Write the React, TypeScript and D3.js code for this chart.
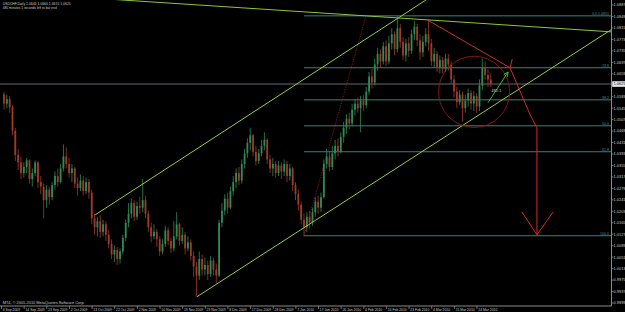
import React from "react";
import * as d3 from "d3";

// ---- data (USDCHF, Daily) ----
const opens = [
  1.0590, 1.0560, 1.0575, 1.0548, 1.0470, 1.0390, 1.0365, 1.0330, 1.0350, 1.0372,
  1.0310, 1.0330, 1.0365, 1.0300, 1.0285, 1.0240, 1.0275, 1.0250, 1.0290, 1.0320,
  1.0300, 1.0345, 1.0385, 1.0360, 1.0330, 1.0345, 1.0295, 1.0280, 1.0305, 1.0270,
  1.0300, 1.0265, 1.0180, 1.0150, 1.0170, 1.0135, 1.0160, 1.0125, 1.0095, 1.0060,
  1.0075, 1.0045, 1.0070, 1.0115, 1.0165, 1.0195, 1.0230, 1.0185, 1.0220, 1.0215,
  1.0240, 1.0195, 1.0150, 1.0120, 1.0135, 1.0110, 1.0070, 1.0095, 1.0140, 1.0105,
  1.0080, 1.0120, 1.0160, 1.0105, 1.0125, 1.0080, 1.0100, 1.0055, 1.0020, 0.9990,
  1.0045, 1.0010, 1.0025, 0.9995, 1.0040, 1.0010, 0.9990, 1.0165, 1.0205, 1.0245,
  1.0215, 1.0270, 1.0300, 1.0330, 1.0305, 1.0360, 1.0395, 1.0430, 1.0455, 1.0400,
  1.0370, 1.0395, 1.0420, 1.0440, 1.0375, 1.0345, 1.0360, 1.0330, 1.0355, 1.0335,
  1.0360, 1.0320, 1.0345, 1.0290, 1.0260, 1.0225, 1.0175, 1.0150, 1.0185, 1.0165,
  1.0200, 1.0235, 1.0215, 1.0250, 1.0360, 1.0385, 1.0350, 1.0395, 1.0420, 1.0400,
  1.0450, 1.0480, 1.0510, 1.0495, 1.0540, 1.0560, 1.0545, 1.0570, 1.0555, 1.0600,
  1.0650, 1.0630, 1.0690, 1.0725, 1.0700, 1.0750, 1.0700, 1.0760, 1.0790, 1.0740,
  1.0810, 1.0765, 1.0720, 1.0760, 1.0735, 1.0790, 1.0815, 1.0770, 1.0730, 1.0765,
  1.0790, 1.0760, 1.0700, 1.0725, 1.0680, 1.0705, 1.0675, 1.0710, 1.0690, 1.0640,
  1.0600, 1.0565, 1.0590, 1.0545, 1.0570, 1.0595, 1.0560, 1.0585, 1.0550, 1.0620,
  1.0680, 1.0655, 1.0640,
];
const highs = [
  1.0600, 1.0590, 1.0585, 1.0555, 1.0480, 1.0410, 1.0385, 1.0365, 1.0380, 1.0375,
  1.0345, 1.0372, 1.0370, 1.0320, 1.0295, 1.0290, 1.0285, 1.0300, 1.0335, 1.0345,
  1.0360, 1.0425, 1.0415, 1.0380, 1.0360, 1.0350, 1.0315, 1.0325, 1.0320, 1.0315,
  1.0310, 1.0275, 1.0195, 1.0185, 1.0190, 1.0175, 1.0170, 1.0140, 1.0110, 1.0090,
  1.0085, 1.0080, 1.0125, 1.0175, 1.0230, 1.0245, 1.0240, 1.0235, 1.0250, 1.0310,
  1.0255, 1.0205, 1.0165, 1.0160, 1.0145, 1.0120, 1.0110, 1.0155, 1.0150, 1.0115,
  1.0170, 1.0200, 1.0165, 1.0150, 1.0135, 1.0120, 1.0110, 1.0070, 1.0035, 1.0070,
  1.0060, 1.0050, 1.0040, 1.0055, 1.0050, 1.0030, 1.0175, 1.0230, 1.0260, 1.0265,
  1.0285, 1.0320, 1.0345, 1.0350, 1.0375, 1.0410, 1.0445, 1.0480, 1.0460, 1.0420,
  1.0410, 1.0440, 1.0465, 1.0445, 1.0390, 1.0380, 1.0370, 1.0370, 1.0365, 1.0375,
  1.0370, 1.0360, 1.0350, 1.0300, 1.0275, 1.0235, 1.0195, 1.0200, 1.0205, 1.0215,
  1.0250, 1.0255, 1.0265, 1.0375, 1.0410, 1.0400, 1.0420, 1.0440, 1.0445, 1.0465,
  1.0500, 1.0525, 1.0530, 1.0560, 1.0575, 1.0580, 1.0585, 1.0590, 1.0615, 1.0665,
  1.0675, 1.0710, 1.0745, 1.0740, 1.0765, 1.0770, 1.0785, 1.0810, 1.0800, 1.0850,
  1.0825, 1.0780, 1.0775, 1.0780, 1.0805, 1.0835, 1.0825, 1.0790, 1.0785, 1.0810,
  1.0840, 1.0775, 1.0745, 1.0735, 1.0720, 1.0715, 1.0725, 1.0725, 1.0700, 1.0655,
  1.0615, 1.0605, 1.0600, 1.0590, 1.0610, 1.0605, 1.0600, 1.0595, 1.0640, 1.0710,
  1.0700, 1.0675, 1.0660,
];
const lows = [
  1.0540, 1.0545, 1.0530, 1.0455, 1.0370, 1.0340, 1.0310, 1.0315, 1.0330, 1.0295,
  1.0285, 1.0320, 1.0280, 1.0260, 1.0180, 1.0215, 1.0225, 1.0240, 1.0275, 1.0285,
  1.0295, 1.0335, 1.0345, 1.0315, 1.0300, 1.0280, 1.0255, 1.0270, 1.0255, 1.0260,
  1.0245, 1.0160, 1.0125, 1.0120, 1.0115, 1.0120, 1.0105, 1.0080, 1.0045, 1.0035,
  1.0025, 1.0030, 1.0060, 1.0105, 1.0150, 1.0180, 1.0170, 1.0175, 1.0195, 1.0200,
  1.0180, 1.0135, 1.0100, 1.0110, 1.0085, 1.0055, 1.0060, 1.0085, 1.0090, 1.0065,
  1.0070, 1.0110, 1.0090, 1.0095, 1.0060, 1.0070, 1.0040, 0.9985, 0.9920, 0.9975,
  0.9990, 0.9990, 0.9975, 0.9985, 0.9990, 0.9965, 0.9985, 1.0150, 1.0190, 1.0195,
  1.0210, 1.0255, 1.0280, 1.0290, 1.0295, 1.0345, 1.0380, 1.0405, 1.0385, 1.0355,
  1.0360, 1.0385, 1.0405, 1.0360, 1.0330, 1.0320, 1.0315, 1.0320, 1.0310, 1.0320,
  1.0300, 1.0305, 1.0270, 1.0240, 1.0205, 1.0160, 1.0120, 1.0135, 1.0145, 1.0155,
  1.0185, 1.0195, 1.0200, 1.0245, 1.0345, 1.0335, 1.0340, 1.0375, 1.0385, 1.0395,
  1.0430, 1.0460, 1.0475, 1.0485, 1.0520, 1.0530, 1.0465, 1.0535, 1.0545, 1.0590,
  1.0610, 1.0620, 1.0670, 1.0680, 1.0690, 1.0685, 1.0690, 1.0740, 1.0720, 1.0730,
  1.0745, 1.0705, 1.0700, 1.0715, 1.0725, 1.0770, 1.0750, 1.0705, 1.0715, 1.0750,
  1.0735, 1.0685, 1.0680, 1.0665, 1.0660, 1.0660, 1.0665, 1.0670, 1.0625, 1.0580,
  1.0545, 1.0555, 1.0500, 1.0530, 1.0550, 1.0540, 1.0535, 1.0530, 1.0535, 1.0605,
  1.0640, 1.0615, 1.0615,
];
const closes = [
  1.0560, 1.0575, 1.0548, 1.0470, 1.0390, 1.0365, 1.0330, 1.0350, 1.0372, 1.0310,
  1.0330, 1.0365, 1.0300, 1.0285, 1.0240, 1.0275, 1.0250, 1.0290, 1.0320, 1.0300,
  1.0345, 1.0385, 1.0360, 1.0330, 1.0345, 1.0295, 1.0280, 1.0305, 1.0270, 1.0300,
  1.0265, 1.0180, 1.0150, 1.0170, 1.0135, 1.0160, 1.0125, 1.0095, 1.0060, 1.0075,
  1.0045, 1.0070, 1.0115, 1.0165, 1.0195, 1.0230, 1.0185, 1.0220, 1.0215, 1.0240,
  1.0195, 1.0150, 1.0120, 1.0135, 1.0110, 1.0070, 1.0095, 1.0140, 1.0105, 1.0080,
  1.0120, 1.0160, 1.0105, 1.0125, 1.0080, 1.0100, 1.0055, 1.0020, 0.9990, 1.0045,
  1.0010, 1.0025, 0.9995, 1.0040, 1.0010, 0.9990, 1.0165, 1.0205, 1.0245, 1.0215,
  1.0270, 1.0300, 1.0330, 1.0305, 1.0360, 1.0395, 1.0430, 1.0455, 1.0400, 1.0370,
  1.0395, 1.0420, 1.0440, 1.0375, 1.0345, 1.0360, 1.0330, 1.0355, 1.0335, 1.0360,
  1.0320, 1.0345, 1.0290, 1.0260, 1.0225, 1.0175, 1.0150, 1.0185, 1.0165, 1.0200,
  1.0235, 1.0215, 1.0250, 1.0360, 1.0385, 1.0350, 1.0395, 1.0420, 1.0400, 1.0450,
  1.0480, 1.0510, 1.0495, 1.0540, 1.0560, 1.0545, 1.0570, 1.0555, 1.0600, 1.0650,
  1.0630, 1.0690, 1.0725, 1.0700, 1.0750, 1.0700, 1.0760, 1.0790, 1.0740, 1.0810,
  1.0765, 1.0720, 1.0760, 1.0735, 1.0790, 1.0815, 1.0770, 1.0730, 1.0765, 1.0790,
  1.0760, 1.0700, 1.0725, 1.0680, 1.0705, 1.0675, 1.0710, 1.0690, 1.0640, 1.0600,
  1.0565, 1.0590, 1.0545, 1.0570, 1.0595, 1.0560, 1.0585, 1.0550, 1.0620, 1.0680,
  1.0655, 1.0640, 1.0625,
];

const dateLabels = [
  "4 Sep 2009", "14 Sep 2009", "23 Sep 2009", "2 Oct 2009", "13 Oct 2009", "22 Oct 2009",
  "2 Nov 2009", "10 Nov 2009", "19 Nov 2009", "29 Nov 2009", "8 Dec 2009", "17 Dec 2009",
  "28 Dec 2009", "7 Jan 2010", "17 Jan 2010", "26 Jan 2010", "4 Feb 2010", "14 Feb 2010",
  "23 Feb 2010", "4 Mar 2010", "15 Mar 2010", "24 Mar 2010",
];
const dateLabelBars = [0, 8, 16, 24, 32, 40, 48, 56, 64, 72, 80, 88, 96, 104, 112, 120, 128, 136, 144, 152, 160, 168];

const priceTicks = [
  0.9899, 0.9937, 0.9975, 1.0013, 1.0051, 1.0089, 1.0127, 1.0165, 1.0203, 1.0241,
  1.0279, 1.0317, 1.0355, 1.0393, 1.0431, 1.0469, 1.0507, 1.0545, 1.0583, 1.0621,
  1.0659, 1.0697, 1.0735, 1.0773, 1.0811, 1.0849, 1.0887,
];

const fibLevels = [0, 23.6, 38.2, 50.0, 61.8, 100.0];
const fibLabels = ["0.0  1.0851", "23.6", "38.2", "50.0", "61.8", "100.0"];
const fibHigh = 1.0851;
const fibLow = 1.0122;
const fibStartBar = 106;

const headerLine1 = "USDCHF,Daily  1.0640 1.0660 1.0615 1.0625";
const headerLine2 = "480 minutes 1 seconds left to bar end";
const footerText = "MT4, \u00a9 2001-2010 MetaQuotes Software Corp.";
const waveText = "480.1";

// drawn objects, anchored in (bar index, price)
const channelUpper: [number, number][] = [[32.2, 1.0191], [132.9, 1.0805]];
const channelLower: [number, number][] = [[68.2, 0.9920], [214.5, 1.0805]];
const resistance: [number, number][] = [[41, 1.0904], [214.5, 1.0798]];
const redTrend: [number, number][] = [[149.5, 1.0838], [178.8, 1.0679]];
const redPath: [number, number][] = [[178.8, 1.0679], [185.9, 1.0523], [188.3, 1.0480], [188.3, 1.0125]];
const redArrowHead: [number, number][] = [[183.0, 1.0201], [188.3, 1.0125], [194.0, 1.0201]];
const redTick: [number, number][] = [[179.6, 1.0708], [178.8, 1.0679]];
const fibBaseline: [number, number][] = [[106, 1.0122], [127.9, 1.0851]];
const greenArrow: [number, number][] = [[171.0, 1.0563], [178.1, 1.0665]];
const circleCenter: [number, number] = [166.1, 1.0599];
const circleRadiusPrice = 0.0118;

export default function App() {
  const W = 625, H = 312;
  const axisX = 611.5, axisY = 306;
  const x = d3.scaleLinear().domain([0, 172]).range([4, 490.8]);
  const y = d3.scaleLinear().domain([0.9899, 1.0887]).range([303, 5]);
  const line = d3.line<[number, number]>().x((d) => x(d[0])).y((d) => y(d[1]));
  const extend = (p: [number, number][], a: number, b: number): [number, number][] => {
    const [[a0, b0], [a1, b1]] = p;
    const s = (b1 - b0) / (a1 - a0);
    return [[a, b0 + s * (a - a0)], [b, b0 + s * (b - a0)]];
  };

  const bull = "#2e8b57";
  const bear = "#a03a2a";
  const fibColor = "#3e8e8e";
  const lineGreen = "#9acd32";
  const red = "#d02b2b";
  const textColor = "#c8c8c8";
  const last = closes[closes.length - 1];

  const cr = Math.abs(y(circleCenter[1] - circleRadiusPrice) - y(circleCenter[1]));

  const ga0 = [x(greenArrow[0][0]), y(greenArrow[0][1])];
  const ga1 = [x(greenArrow[1][0]), y(greenArrow[1][1])];
  const ang = Math.atan2(ga1[1] - ga0[1], ga1[0] - ga0[0]);
  const ah = 5;
  const gHead = `M${ga1[0] - ah * Math.cos(ang - 0.45)},${ga1[1] - ah * Math.sin(ang - 0.45)}L${ga1[0]},${ga1[1]}L${ga1[0] - ah * Math.cos(ang + 0.45)},${ga1[1] - ah * Math.sin(ang + 0.45)}`;

  return (
    <svg
      width={W}
      height={H}
      style={{ position: "absolute", left: 0, top: 0, display: "block", background: "#000" }}
      fontFamily="'Liberation Sans', Arial, sans-serif"
    >
      <defs>
        <clipPath id="plot">
          <rect x={0} y={0} width={axisX} height={axisY} />
        </clipPath>
      </defs>
      <rect x={0} y={0} width={W} height={H} fill="#000" />

      <g clipPath="url(#plot)">
        <line x1={0} x2={axisX} y1={y(last)} y2={y(last)} stroke="#7a8592" strokeWidth={0.8} />

        {fibLevels.map((lv, k) => {
          const p = fibHigh - (fibHigh - fibLow) * (lv / 100);
          return (
            <g key={"f" + k}>
              <line x1={x(fibStartBar)} x2={axisX} y1={y(p)} y2={y(p)} stroke={fibColor} strokeWidth={0.9} />
              <text x={609} y={y(p) - 1.2} fontSize={3.6} fill={fibColor} textAnchor="end">
                {fibLabels[k]}
              </text>
            </g>
          );
        })}
        <path d={line(fibBaseline) || ""} stroke="#9b1c1c" strokeWidth={0.8} strokeDasharray="1.2,1.2" fill="none" />

        {closes.map((c, i) => {
          const o = opens[i];
          const h = Math.max(highs[i], o, c);
          const l = Math.min(lows[i], o, c);
          const cx = x(i);
          const col = c >= o ? bull : bear;
          const top = y(Math.max(o, c));
          const bh = Math.max(0.8, Math.abs(y(o) - y(c)));
          return (
            <g key={"c" + i}>
              <line x1={cx} x2={cx} y1={y(h)} y2={y(l)} stroke={col} strokeWidth={0.8} />
              <rect x={cx - 0.9} y={top} width={1.8} height={bh} fill={col} />
            </g>
          );
        })}

        <path d={line(extend(channelUpper, 32.2, 240)) || ""} stroke={lineGreen} strokeWidth={1} fill="none" />
        <path d={line(extend(channelLower, 68.2, 240)) || ""} stroke={lineGreen} strokeWidth={1} fill="none" />
        <path d={line(extend(resistance, 30, 240)) || ""} stroke="#8cc63f" strokeWidth={1} fill="none" />

        <circle cx={x(circleCenter[0])} cy={y(circleCenter[1])} r={cr} stroke="#8e1a1a" strokeWidth={0.9} fill="none" />
        <path d={line(redTrend) || ""} stroke={red} strokeWidth={1} fill="none" />
        <path d={line(redTick) || ""} stroke={red} strokeWidth={1} fill="none" />
        <path d={line(redPath) || ""} stroke={red} strokeWidth={1} fill="none" strokeLinejoin="round" />
        <path d={line(redArrowHead) || ""} stroke={red} strokeWidth={1} fill="none" />

        <path d={line(greenArrow) || ""} stroke="#3ccf3c" strokeWidth={0.9} fill="none" />
        <path d={gHead} stroke="#3ccf3c" strokeWidth={0.9} fill="none" />
        <text x={x(172.2)} y={y(1.0598)} fontSize={4} fill="#c0c0c0">{waveText}</text>
      </g>

      <text x={2.7} y={4.6} fontSize={3.6} fill={textColor} textLength={68} lengthAdjust="spacingAndGlyphs">{headerLine1}</text>
      <text x={2.7} y={8.7} fontSize={3.6} fill={textColor} textLength={54} lengthAdjust="spacingAndGlyphs">{headerLine2}</text>
      <text x={2.7} y={304.4} fontSize={3.6} fill={textColor} textLength={82} lengthAdjust="spacingAndGlyphs">{footerText}</text>

      <line x1={axisX} x2={axisX} y1={0} y2={axisY} stroke="#9a9a9a" strokeWidth={0.9} />
      <line x1={0} x2={axisX} y1={axisY} y2={axisY} stroke="#9a9a9a" strokeWidth={0.9} />
      {priceTicks.map((p, k) => {
        const yy = y(p);
        const hidden = Math.abs(yy - y(last)) < 4;
        return (
          <g key={"p" + k}>
            <line x1={axisX} x2={axisX + 2} y1={yy} y2={yy} stroke="#9a9a9a" strokeWidth={0.7} />
            {!hidden && (
              <text x={613.6} y={yy + 1.4} fontSize={3.9} fill={textColor}>{p.toFixed(4)}</text>
            )}
          </g>
        );
      })}
      <rect x={612.2} y={y(last) - 2.8} width={12.8} height={5.6} fill="#e8e8e8" />
      <text x={613.4} y={y(last) + 1.4} fontSize={3.9} fill="#000">{last.toFixed(4)}</text>

      {dateLabels.map((lab, k) => {
        const xx = x(dateLabelBars[k]);
        return (
          <g key={"d" + k}>
            <line x1={xx - 2.5} x2={xx - 2.5} y1={axisY} y2={axisY + 3} stroke="#9a9a9a" strokeWidth={0.7} />
            <text x={xx - 1.2} y={310.6} fontSize={3.4} fill={textColor}>{lab}</text>
          </g>
        );
      })}
    </svg>
  );
}
